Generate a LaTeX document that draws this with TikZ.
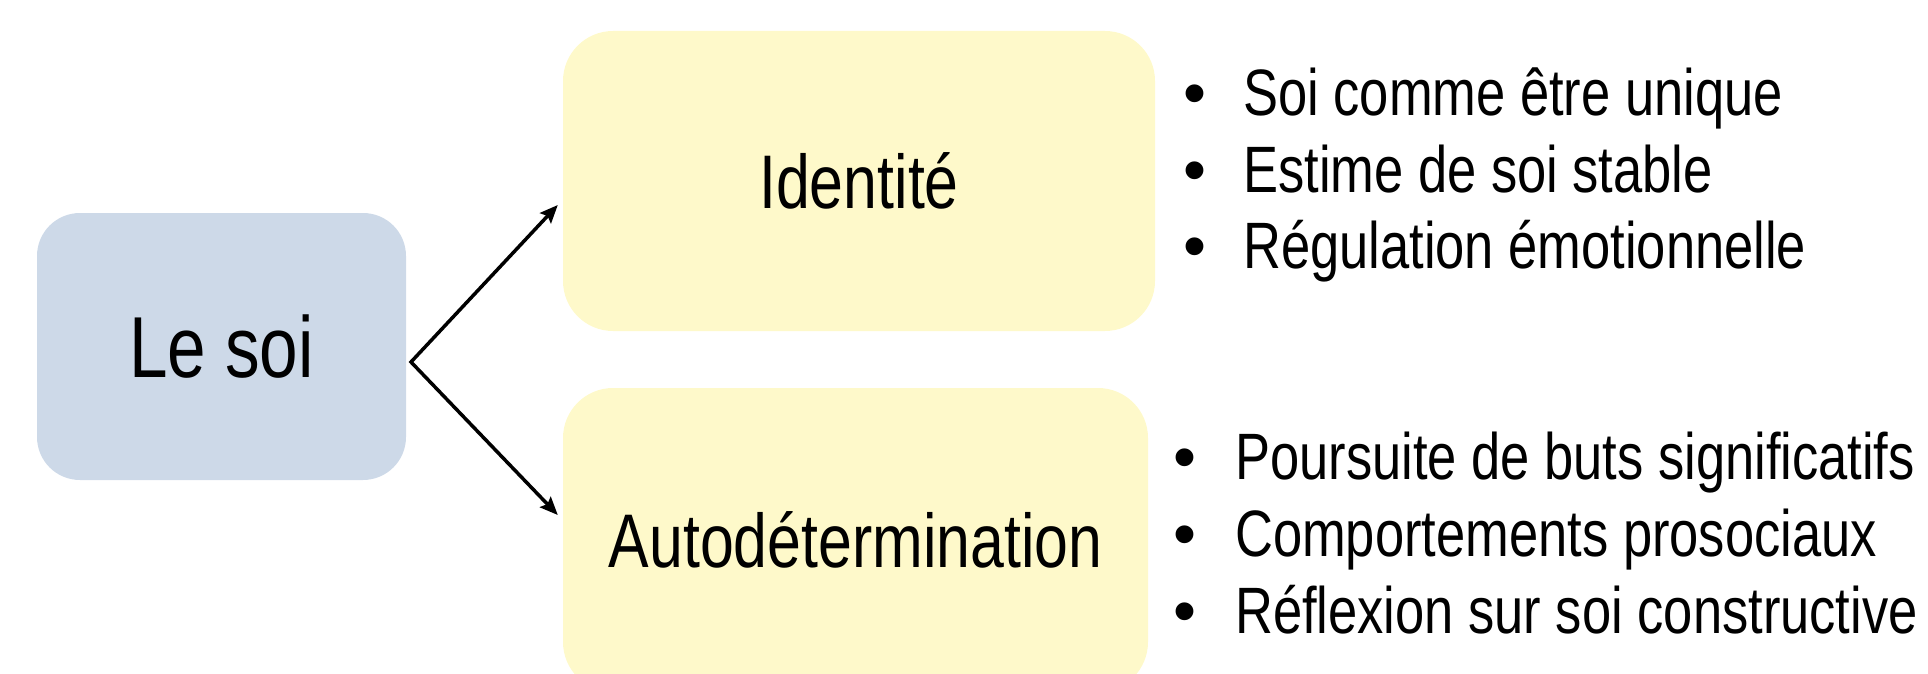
\documentclass[tikz,border=0pt]{standalone}
\usepackage{fontspec}
\setmainfont{Liberation Sans}[FakeStretch=0.8]
\newfontfamily\bulletfont{Liberation Sans}
\usepackage{tikz}
\usetikzlibrary{arrows.meta}

\definecolor{soiblue}{HTML}{CDD9E8}
\definecolor{boxyellow}{HTML}{FEF9CA}

\tikzset{
    box/.style={rectangle, inner sep=0pt, font=\fontsize{76}{80}\selectfont},
    puce/.style={anchor=base, inner sep=0pt, font=\bulletfont\fontsize{65.6}{70}\selectfont},
    item/.style={anchor=base west, inner sep=0pt, font=\fontsize{65.6}{70}\selectfont},
    fleche/.tip={Stealth[length=18pt, width=15pt, inset=3pt]}
}

\begin{document}
\begin{tikzpicture}[x=1pt, y=-1pt]
            \clip (0,0) rectangle (1928,674);

            % Nodes
            \node[box, fill=soiblue, rounded corners=43pt, minimum width=369pt, minimum height=267pt,
                  font=\fontsize{86.6}{90}\selectfont] (soi) at (221.5, 346.5) {Le soi};
            \node[box, fill=boxyellow, rounded corners=50pt, minimum width=592pt, minimum height=300pt] (ident) at (859, 181) {Identité};
            \node[box, fill=boxyellow, rounded corners=50pt, minimum width=585pt, minimum height=304pt] (autod) at (855.5, 540) {Autodétermination};
            \coordinate (fork) at (411, 362);

            % Lists
            \node[puce] (p1) at (1195, 116) {•};
            \node[item] (i1) at (1243, 116) {Soi comme être unique};
            \node[puce] (p2) at (1195, 192) {•};
            \node[item] (i2) at (1243, 192) {Estime de soi stable};
            \node[puce] (p3) at (1195, 268) {•};
            \node[item] (i3) at (1243, 268) {Régulation émotionnelle};

            \node[puce] (p4) at (1185, 479) {•};
            \node[item] (i4) at (1235, 479) {Poursuite de buts significatifs};
            \node[puce] (p5) at (1185, 556) {•};
            \node[item] (i5) at (1235, 556) {Comportements prosociaux};
            \node[puce] (p6) at (1185, 633) {•};
            \node[item] (i6) at (1235, 633) {Réflexion sur soi constructive};

            % Edges
            \draw[fleche-fleche, line width=3.5pt] ([xshift=-5pt, yshift=-24pt]ident.west) -- (fork) -- ([xshift=-5pt, yshift=25pt]autod.west);
        \end{tikzpicture}
\end{document}
